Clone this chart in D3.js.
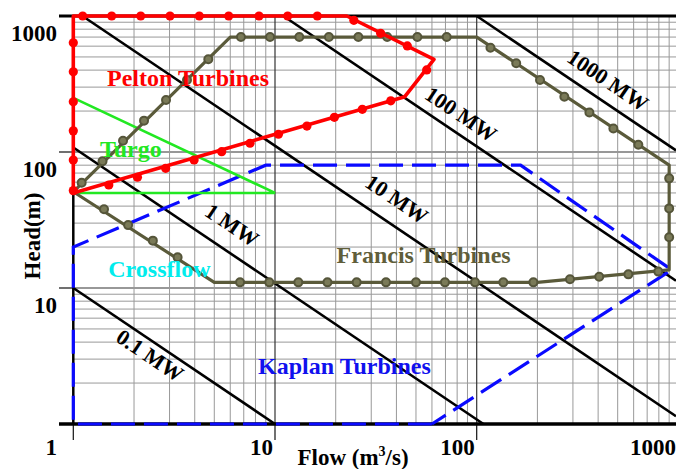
<!DOCTYPE html>
<html>
<head>
<meta charset="utf-8">
<script src="https://cdn.jsdelivr.net/npm/d3@7"></script>
<style>
  html, body { margin: 0; padding: 0; background: #fff; }
  svg { display: block; }
  text { font-family: "Liberation Serif", "Times New Roman", serif; font-weight: bold; }
</style>
</head>
<body>
<svg id="chart" width="676" height="469"></svg>
<script>
// Turbine application ranges: flow Q (m³/s) against head H (m), both log scaled.

const xTicks = [10, 100, 1000];
const yTicks = [1, 10, 100, 1000];

// Constant-power lines, given by the product Q·H along each line
const powerLabels = ["0.1 MW", "1 MW", "10 MW", "100 MW", "1000 MW"];
const powerQH = [10, 108, 1110, 11000, 100000];
const powerLabelQ = [2.61, 5.24, 34.5, 74.6, 393.6];
const powerLabelShift = [-13, 24.5, 24, 18, 20];

// Pelton envelope [Q, H]
const peltonOutline = [[1, 50], [1, 1000], [22.7, 1000], [61.4, 480], [44, 255], [1, 50]];
const peltonMarkers = [
  [1, 636], [1, 389], [1, 234], [1, 143], [1, 87.3], [1, 52],
  [1.113, 1000], [1.55, 1000], [2.159, 1000], [3.016, 1000], [4.214, 1000],
  [5.895, 1000], [8.331, 1000], [11.56, 1000], [16.21, 1000],
  [24.6, 930], [33.4, 746], [45.3, 602], [56.5, 401],
  [37.5, 238], [27.1, 206], [19.7, 180], [14.4, 155], [10.4, 135], [7.52, 116],
  [5.44, 100.5], [3.97, 87.3], [2.87, 75.9], [2.08, 65.2], [1.5, 57.2]
];

// Turgo envelope
const turgoOutline = [[1, 250], [10, 50], [1, 50], [1, 250]];

// Francis envelope
const francisOutline = [[1, 51], [6, 700], [100, 700], [900, 80], [900, 13.6], [200, 11], [5, 11], [1, 51]];
const francisMarkers = [
  [1.1, 59.5], [1.396, 85.6], [1.764, 121], [2.242, 170], [2.882, 241], [3.662, 338], [4.67, 481],
  [6.78, 700], [9.45, 700], [13.2, 700], [18.5, 700], [25.9, 700], [36, 700], [50.8, 700], [71, 700],
  [117, 585], [157, 449], [206, 338], [272, 255], [362, 195], [476, 149], [633, 113],
  [900, 64], [900, 38.5], [900, 23.6],
  [795, 13.2], [565, 12.6], [405, 12.1], [290, 11.6], [191, 11], [135.5, 11], [98.1, 11],
  [69.6, 11], [50, 11], [35.5, 11], [25.4, 11], [18.2, 11], [13.05, 11], [9.37, 11], [6.71, 11],
  [3.29, 16.8], [2.48, 22.3], [1.87, 29], [1.42, 37.9]
];

// Kaplan envelope
const kaplanOutline = [[60, 1], [1, 1], [1, 20], [9, 80], [165, 80], [926, 13.6], [60, 1]];

// Region names, with [Q, H] of each name's baseline start
const regionNames = ["Pelton Turbines", "Turgo", "Crossflow", "Francis Turbines", "Kaplan Turbines"];
const regionAt = [[1.47, 305], [1.356, 92], [1.491, 12.1], [20.2, 15.35], [8.24, 2.33]];
const regionColors = ["#ff0000", "#22e822", "#00ecec", "#605e3a", "#1010ee"];

const W = 676, H = 469;
const svg = d3.select("#chart");

const x = d3.scaleLog().domain([1, 1000]).range([73.3, 678.4]);
const y = d3.scaleLog().domain([1, 1000]).range([424, 16]);
const xRight = W;
const qMax = x.invert(xRight);

// grid values 1..9 per decade
const gridVals = [];
[1, 10, 100].forEach(d => { for (let k = 1; k <= 9; k++) gridVals.push(d * k); });
gridVals.push(1000);
const isMajor = v => [1, 10, 100, 1000].includes(v);

const grid = svg.append("g");
gridVals.filter(v => v > 1 && v < 1000).forEach(v => {
  grid.append("line")
    .attr("x1", x(1)).attr("x2", xRight)
    .attr("y1", y(v)).attr("y2", y(v))
    .attr("stroke", isMajor(v) ? "#333" : "#999").attr("stroke-width", isMajor(v) ? 1.2 : 1);
});
gridVals.filter(v => v > 1 && v <= qMax).forEach(v => {
  grid.append("line")
    .attr("x1", x(v)).attr("x2", x(v))
    .attr("y1", y(1000)).attr("y2", y(1))
    .attr("stroke", isMajor(v) ? "#333" : "#999").attr("stroke-width", isMajor(v) ? 1.2 : 1);
});
// tick extensions
[1, 10, 100, 1000].forEach(v => {
  grid.append("line").attr("x1", 59).attr("x2", x(1)).attr("y1", y(v)).attr("y2", y(v))
    .attr("stroke", "#111").attr("stroke-width", 1.2);
});
[1, 10, 100].forEach(v => {
  grid.append("line").attr("x1", x(v)).attr("x2", x(v)).attr("y1", y(1)).attr("y2", 440)
    .attr("stroke", "#111").attr("stroke-width", 1.2);
});

// frame
svg.append("line").attr("x1", 59).attr("x2", xRight).attr("y1", y(1)).attr("y2", y(1))
  .attr("stroke", "#000").attr("stroke-width", 3.5);
svg.append("line").attr("x1", 59).attr("x2", xRight).attr("y1", y(1000)).attr("y2", y(1000))
  .attr("stroke", "#000").attr("stroke-width", 3);
svg.append("line").attr("x1", x(1)).attr("x2", x(1)).attr("y1", y(1000)).attr("y2", y(1))
  .attr("stroke", "#000").attr("stroke-width", 2.5);

// constant-power lines
const angle = Math.atan((y(1) - y(10)) / (x(10) - x(1))) * 180 / Math.PI;
powerQH.forEach((qh, i) => {
  const q0 = Math.max(1, qh / 1000);
  const q1 = Math.min(qMax, qh / 1);
  svg.append("line")
    .attr("x1", x(q0)).attr("y1", y(qh / q0))
    .attr("x2", x(q1)).attr("y2", y(qh / q1))
    .attr("stroke", "#000").attr("stroke-width", 2.6);
});

const line = d3.line().x(d => x(d[0])).y(d => y(d[1])).curve(d3.curveLinear);

// Kaplan (dashed blue)
svg.append("path").attr("d", line(kaplanOutline))
  .attr("fill", "none").attr("stroke", "#0a0aff").attr("stroke-width", 3.2)
  .attr("stroke-dasharray", "24,9").attr("stroke-linejoin", "miter");

// Turgo
svg.append("path").attr("d", line(turgoOutline))
  .attr("fill", "none").attr("stroke", "#22e822").attr("stroke-width", 2.6);

// Francis
svg.append("path").attr("d", line(francisOutline))
  .attr("fill", "none").attr("stroke", "#5a5a3a").attr("stroke-width", 3.2)
  .attr("stroke-linejoin", "round");
svg.append("g").selectAll("circle").data(francisMarkers).join("circle")
  .attr("cx", d => x(d[0])).attr("cy", d => y(d[1])).attr("r", 4)
  .attr("fill", "#7a7a58").attr("stroke", "#55553a").attr("stroke-width", 2);

// Pelton
svg.append("path").attr("d", line(peltonOutline))
  .attr("fill", "none").attr("stroke", "#ff0000").attr("stroke-width", 3.6)
  .attr("stroke-linejoin", "round");
svg.append("g").selectAll("circle").data(peltonMarkers).join("circle")
  .attr("cx", d => x(d[0])).attr("cy", d => y(d[1])).attr("r", 4.6)
  .attr("fill", "#ff0000");

// power line labels, set off perpendicular to their lines
powerQH.forEach((qh, i) => {
  const q = powerLabelQ[i];
  svg.append("text")
    .attr("transform", `translate(${x(q)},${y(qh / q)}) rotate(${angle})`)
    .attr("x", 0).attr("y", -powerLabelShift[i])
    .attr("text-anchor", "middle").attr("dominant-baseline", "central")
    .attr("font-size", 22).attr("fill", "#000")
    .text(powerLabels[i]);
});

// region names
regionNames.forEach((t, i) => {
  svg.append("text")
    .attr("x", x(regionAt[i][0])).attr("y", y(regionAt[i][1]))
    .attr("font-size", 24).attr("fill", regionColors[i])
    .text(t);
});

// tick labels
svg.append("g").selectAll("text").data(yTicks).join("text")
  .attr("x", 57).attr("y", d => d === 1 ? 455 : y(d) + 25)
  .attr("text-anchor", "end").attr("font-size", 23).attr("fill", "#000")
  .text(d => d);
svg.append("g").selectAll("text").data(xTicks).join("text")
  .attr("x", d => Math.min(x(d) - 2, W))
  .attr("y", 455)
  .attr("text-anchor", "end").attr("font-size", 23).attr("fill", "#000")
  .text(d => d);

// axis titles
const xt = svg.append("text").attr("x", 353).attr("y", 465)
  .attr("text-anchor", "middle").attr("font-size", 23).attr("fill", "#000");
xt.append("tspan").text("Flow (m");
xt.append("tspan").attr("font-size", 14).attr("dy", -9).text("3");
xt.append("tspan").attr("dy", 9).text("/s)");

svg.append("text")
  .attr("transform", "translate(40,236) rotate(-90)")
  .attr("text-anchor", "middle").attr("font-size", 23).attr("fill", "#000")
  .text("Head(m)");
</script>
</body>
</html>
